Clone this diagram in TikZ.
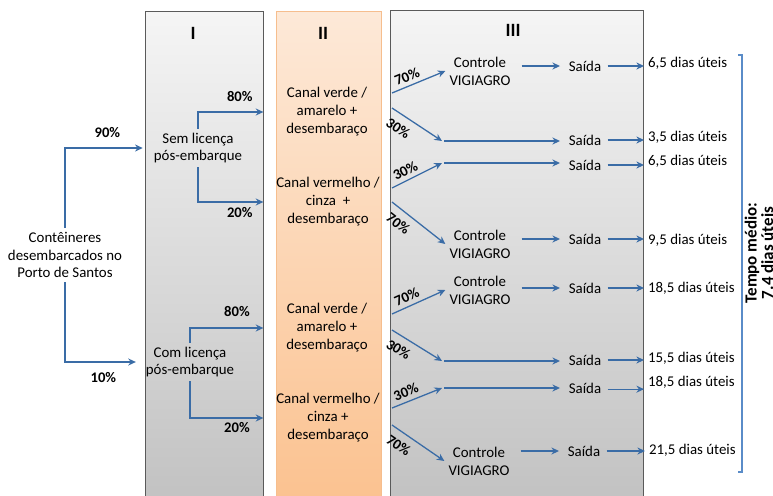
\documentclass[tikz,border=0pt]{standalone}
\usepackage{fontspec}
\setmainfont{Carlito}
\usetikzlibrary{arrows.meta,fit,positioning}

\definecolor{azul}{RGB}{58,108,166}
\definecolor{azulclaro}{RGB}{90,140,200}
\definecolor{cinzaA}{RGB}{245,245,245}
\definecolor{cinzaB}{RGB}{194,194,194}
\definecolor{bordaC}{RGB}{90,90,90}
\definecolor{laranjaA}{RGB}{253,233,216}
\definecolor{laranjaB}{RGB}{251,194,144}
\definecolor{bordaL}{RGB}{246,190,142}

\tikzset{
  seta/.style={draw=azul, line width=1.1pt, -{Stealth[length=6.5pt,width=6pt]}},
  txt/.style={align=center, font=\fontsize{12.7}{15.3}\selectfont},
  dia/.style={txt, anchor=west},
  pct/.style={font=\fontsize{12.5}{14.5}\selectfont\bfseries},
  hdr/.style={font=\fontsize{16}{18}\selectfont\bfseries},
  colcinza/.style={draw=bordaC, line width=0.6pt, inner sep=0pt, top color=cinzaA, bottom color=cinzaB},
  collaranja/.style={draw=bordaL, line width=0.6pt, inner sep=0pt, top color=laranjaA, bottom color=laranjaB},
  chave/.style={draw=azulclaro, line width=1.1pt}
}

\begin{document}
\begin{tikzpicture}[x=0.03cm, y=-0.03cm]
\useasboundingbox (0,0) rectangle (773,495);

% colunas
\node[colcinza, fit={(145,11) (263,500)}] (colI) {};
\node[collaranja, fit={(276,11) (381,500)}] (colII) {};
\node[colcinza, fit={(390,10) (643,500)}] (colIII) {};
\node[hdr] (tI) at (193,33) {I};
\node[hdr] (tII) at (323,33) {II};
\node[hdr] (tIII) at (513,30) {III};

\node[txt] (cont) at (65,255) {Contêineres\\desembarcados no\\Porto de Santos};
\node[txt] (sem) at (198,148) {Sem licença\\pós-embarque};
\node[txt] (com) at (190,362) {Com licença\\pós-embarque};

\node[txt] (cv1) at (327,112) {Canal verde /\\amarelo +\\desembaraço};
\node[txt] (cr1) at (328,202) {Canal vermelho /\\cinza~ +\\desembaraço};
\node[txt] (cv2) at (327,328) {Canal verde /\\amarelo +\\desembaraço};
\node[txt] (cr2) at (328,418) {Canal vermelho /\\cinza +\\desembaraço};

\draw[seta, shorten >=6pt] (cont.north) |- node[pct, pos=0.75, above=5pt] (p90) {90\%} (sem.west);
\draw[seta, shorten >=5pt] (cont.south) |- node[pct, pos=0.75, below=5pt] (p10) {10\%} (com.west);
\draw[seta] (sem.north) |- node[pct, pos=0.82, above=5pt] (p80a) {80\%} (cv1.west -| colI.east);
\draw[seta] (sem.south) |- node[pct, pos=0.82, below=1pt] (p20a) {20\%} (cr1.west -| colI.east);
\draw[seta] (com.north) |- node[pct, pos=0.82, above=6pt] (p80b) {80\%} (cv2.west -| colI.east);
\draw[seta] (com.south) |- node[pct, pos=0.82, below=0pt] (p20b) {20\%} (cr2.west -| colI.east);

% coluna III
\node[txt] (ctlA) at (480,71) {Controle\\VIGIAGRO};
\node[txt] (ctlB) at (480,244) {Controle\\VIGIAGRO};
\node[txt] (ctlC) at (480,290) {Controle\\VIGIAGRO};
\node[txt] (ctlD) at (479,461) {Controle\\VIGIAGRO};

\node[txt] (sA1) at (585,66) {Saída};
\node[txt] (sA2) at (585,140) {Saída};
\node[txt] (sB1) at (585,165) {Saída};
\node[txt] (sB2) at (585,239) {Saída};
\node[txt] (sC1) at (585,288) {Saída};
\node[txt] (sC2) at (585,360) {Saída};
\node[txt] (sD1) at (585,388) {Saída};
\node[txt] (sD2) at (584,451) {Saída};

\node[dia] (dA1) at (644,63) {6,5 dias úteis};
\node[dia] (dA2) at (644,137) {3,5 dias úteis};
\node[dia] (dB1) at (644,161) {6,5 dias úteis};
\node[dia] (dB2) at (644,240) {9,5 dias úteis};
\node[dia] (dC1) at (644,288) {18,5 dias úteis};
\node[dia] (dC2) at (644,358) {15,5 dias úteis};
\node[dia] (dD1) at (644,382) {18,5 dias úteis};
\node[dia] (dD2) at (645,450) {21,5 dias úteis};

\coordinate (a1) at (392,93);
\coordinate (a2) at (392,108);
\coordinate (b1) at (392,188);
\coordinate (b2) at (392,202);
\coordinate (c1) at (392,314);
\coordinate (c2) at (392,330);
\coordinate (d1) at (392,408);
\coordinate (d2) at (392,425);
\coordinate (jA) at (442,141);
\coordinate (jB) at (442,163);
\coordinate (jC) at (442,361);
\coordinate (jD) at (442,388);

\draw[seta] (a1) -- node[pct, sloped, pos=0.35, above] (p70a) {70\%} (ctlA.west);
\draw[seta] (a2) -- node[pct, sloped, pos=0.27, below=3pt] (p30a) {30\%} (jA);
\draw[seta] (b1) -- node[pct, sloped, pos=0.35, above] (p30b) {30\%} (jB);
\draw[seta] (b2) -- node[pct, sloped, pos=0.27, below=3pt] (p70b) {70\%} (ctlB.west);
\draw[seta] (c1) -- node[pct, sloped, pos=0.35, above] (p70c) {70\%} (ctlC.west);
\draw[seta] (c2) -- node[pct, sloped, pos=0.27, below=3pt] (p30c) {30\%} (jC);
\draw[seta] (d1) -- node[pct, sloped, pos=0.35, above] (p30d) {30\%} (jD);
\draw[seta] (d2) -- node[pct, sloped, pos=0.27, below=3pt] (p70d) {70\%} (ctlD.west);

\draw[seta, shorten >=4pt] ([xshift=2pt]jA) -- (jA -| sA2.west);
\draw[seta, shorten >=4pt] ([xshift=2pt]jB) -- (jB -| sB1.west);
\draw[seta, shorten >=4pt] ([xshift=2pt]jC) -- (jC -| sC2.west);
\draw[seta, shorten >=4pt] ([xshift=2pt]jD) -- (jD -| sD1.west);

\draw[seta, shorten <=6pt, shorten >=4pt] (ctlA.east |- sA1.west) -- (sA1.west);
\draw[seta, shorten <=6pt, shorten >=4pt] (ctlB.east |- sB2.west) -- (sB2.west);
\draw[seta, shorten <=6pt, shorten >=4pt] (ctlC.east |- sC1.west) -- (sC1.west);
\draw[seta, shorten <=6pt, shorten >=4pt] (ctlD.east |- sD2.west) -- (sD2.west);

\draw[seta, shorten <=2pt] (sA1.east) -- (sA1.east -| dA1.west);
\draw[seta, shorten <=2pt] (sA2.east) -- (sA2.east -| dA2.west);
\draw[seta, shorten <=2pt] (sB1.east) -- (sB1.east -| dB1.west);
\draw[seta, shorten <=2pt] (sB2.east) -- (sB2.east -| dB2.west);
\draw[seta, shorten <=2pt] (sC1.east) -- (sC1.east -| dC1.west);
\draw[seta, shorten <=2pt] (sC2.east) -- (sC2.east -| dC2.west);
\draw[seta, shorten <=2pt] ([yshift=-1pt]sD1.east) -- ([yshift=-1pt]sD1.east -| dD1.west);
\draw[seta, shorten <=2pt] (sD2.east) -- (sD2.east -| dD2.west);

% tempo medio
\draw[chave] (738,55) -- (742,55) -- (742,472) -- (738,472);
\node[rotate=90, align=center, font=\fontsize{14.5}{14}\selectfont\bfseries] (tempo) at (759,253) {Tempo médio:\\7.4 dias úteis};
\end{tikzpicture}
\end{document}
